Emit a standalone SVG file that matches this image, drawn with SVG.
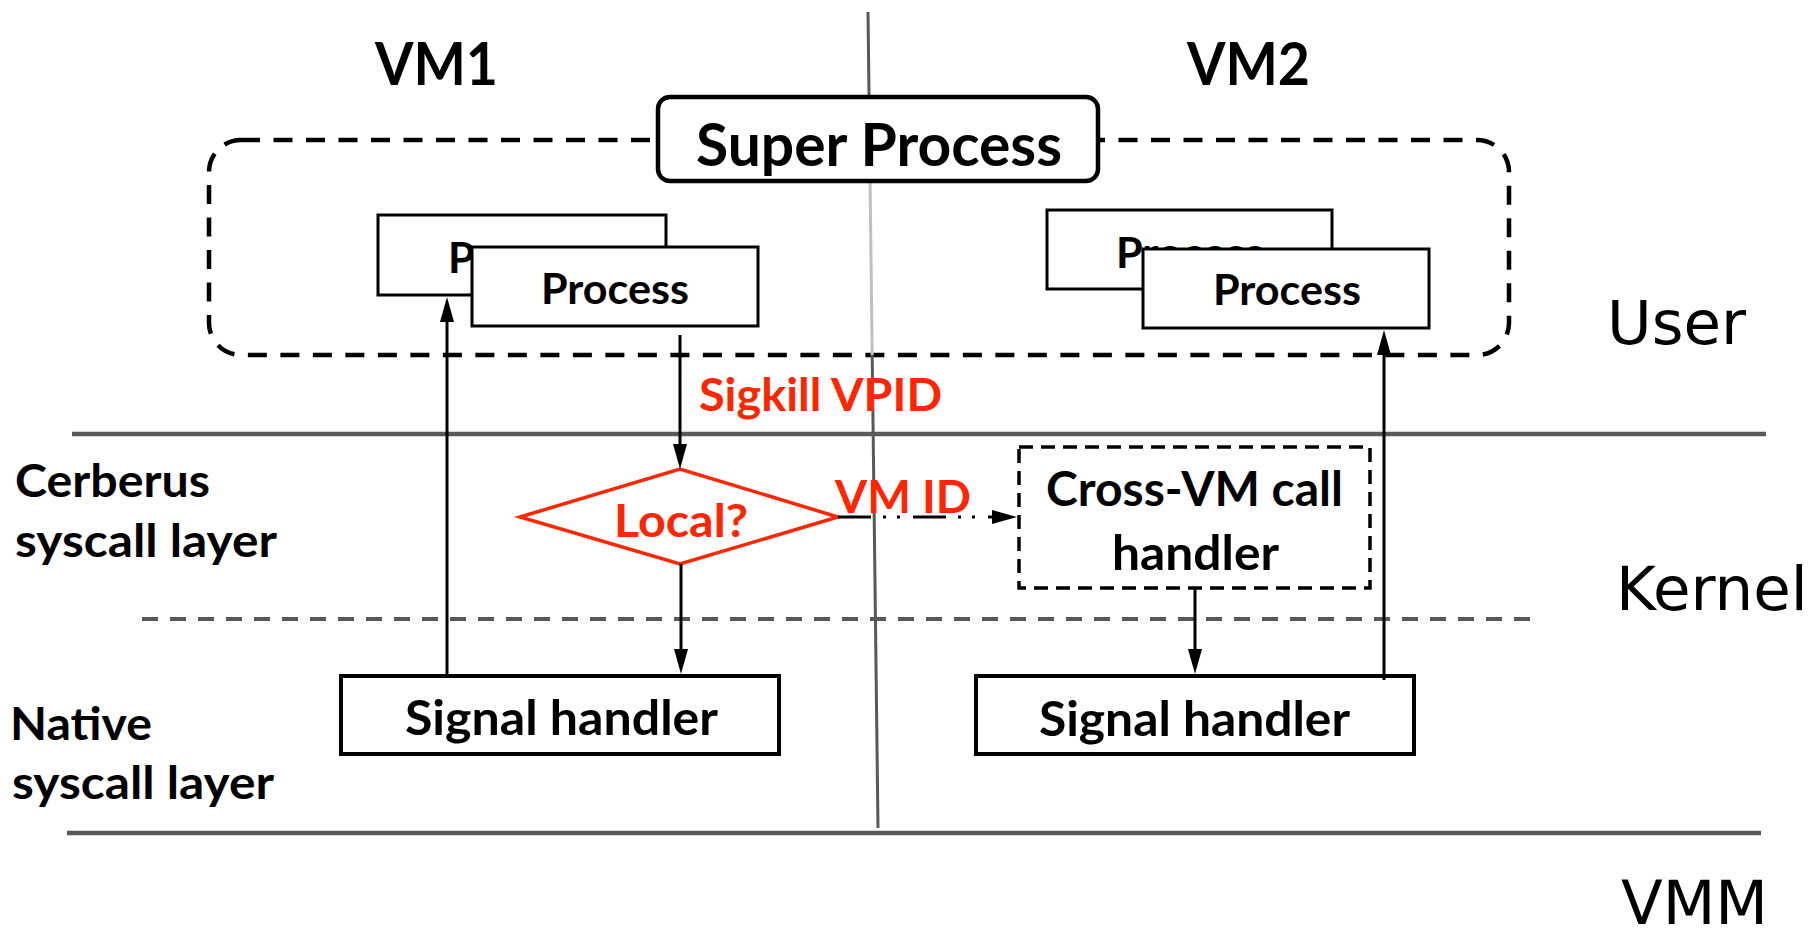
<svg xmlns="http://www.w3.org/2000/svg" width="1819" height="930" viewBox="0 0 1819 930">
  <style>
    .b { font-family: Lato, "Open Sans", "Liberation Sans", sans-serif; font-weight: 700; fill: #000; }
    .red { fill: #ff2600; }
    .layer { font-family: "DejaVu Sans", Verdana, sans-serif; font-size: 61px; fill: #000; }
    .box { fill: #fff; stroke: #000; }
    .conn { stroke: #000; stroke-width: 3; fill: none; }
    .sep { stroke: #595959; stroke-width: 4.5; fill: none; }
    .div { stroke-width: 3; fill: none; }
  </style>
  <defs>
    <marker id="ah" markerUnits="userSpaceOnUse" viewBox="0 0 25 14" markerWidth="25" markerHeight="14" refX="15" refY="7" orient="auto">
      <path d="M0,0 L25,7 L0,14 z" fill="#000"/>
    </marker>
  </defs>

  <rect width="1819" height="930" fill="#fff"/>

  <!-- layer boundaries -->
  <g id="layer-lines">
    <line class="sep" x1="72" y1="434" x2="1766" y2="434"/>
    <line class="sep" x1="67" y1="833" x2="1761" y2="833"/>
    <line x1="142" y1="619" x2="1531" y2="619" stroke="#595959" stroke-width="4" stroke-dasharray="16 12"/>
  </g>

  <!-- super process group boundary -->
  <g id="super-process-scope">
    <rect x="209" y="140" width="1300" height="215" rx="32" ry="32" fill="none" stroke="#000" stroke-width="4.5" stroke-dasharray="19 13.5"/>
  </g>

  <!-- VM separator -->
  <g id="vm-divider">
    <line class="div" stroke="#595959" x1="868" y1="12" x2="869.04" y2="97"/>
    <line class="div" stroke="#c0c0c0" x1="870.07" y1="181" x2="872.2" y2="355"/>
    <line class="div" stroke="#595959" x1="872.2" y1="355" x2="878" y2="828"/>
  </g>

  <g id="vm1-label"><text class="b" x="375" y="85" font-size="60" textLength="123" lengthAdjust="spacingAndGlyphs">VM1</text></g>
  <g id="vm2-label"><text class="b" x="1187" y="85" font-size="60" textLength="123" lengthAdjust="spacingAndGlyphs">VM2</text></g>

  <g id="super-process">
    <rect class="box" x="658" y="97" width="440" height="84" rx="12" ry="12" stroke-width="4.5"/>
    <text class="b" x="696" y="166" font-size="60" textLength="366" lengthAdjust="spacingAndGlyphs">Super Process</text>
  </g>

  <g id="vm1-process-back">
    <rect class="box" x="378" y="215" width="288" height="80" stroke-width="3"/>
    <text class="b" x="448" y="273" font-size="42" textLength="148" lengthAdjust="spacingAndGlyphs">Process</text>
  </g>
  <g id="vm1-process-front">
    <rect class="box" x="472" y="247" width="286" height="79" stroke-width="3"/>
    <text class="b" x="541" y="304" font-size="42" textLength="148" lengthAdjust="spacingAndGlyphs">Process</text>
  </g>

  <g id="vm2-process-back">
    <rect class="box" x="1047" y="210" width="285" height="79" stroke-width="3"/>
    <text class="b" x="1116" y="268" font-size="42" textLength="148" lengthAdjust="spacingAndGlyphs">Process</text>
  </g>
  <g id="vm2-process-front">
    <rect class="box" x="1143" y="249" width="286" height="79" stroke-width="3"/>
    <text class="b" x="1213" y="305" font-size="42" textLength="148" lengthAdjust="spacingAndGlyphs">Process</text>
  </g>

  <g id="local-check">
    <polygon points="520,517 680,469 838,517 680,564" fill="#fff" stroke="#ff2600" stroke-width="3.5"/>
    <text class="b red" x="614" y="537" font-size="46" textLength="134" lengthAdjust="spacingAndGlyphs">Local?</text>
  </g>

  <g id="cross-vm-handler">
    <rect x="1019" y="447" width="351" height="141" fill="#fff" stroke="#000" stroke-width="3.5" stroke-dasharray="14 8"/>
    <text class="b" x="1046" y="506" font-size="47" textLength="297" lengthAdjust="spacingAndGlyphs">Cross-VM call</text>
    <text class="b" x="1112" y="570" font-size="47" textLength="167" lengthAdjust="spacingAndGlyphs">handler</text>
  </g>

  <g id="vm1-signal-handler">
    <rect class="box" x="341" y="676" width="438" height="78" stroke-width="4"/>
    <text class="b" x="405" y="735" font-size="48" textLength="313" lengthAdjust="spacingAndGlyphs">Signal handler</text>
  </g>
  <g id="vm2-signal-handler">
    <rect class="box" x="976" y="676" width="438" height="78" stroke-width="4"/>
    <text class="b" x="1039" y="736" font-size="48" textLength="311" lengthAdjust="spacingAndGlyphs">Signal handler</text>
  </g>

  <g id="cerberus-layer-label">
    <text class="b" x="15" y="497" font-size="45" textLength="195" lengthAdjust="spacingAndGlyphs">Cerberus</text>
    <text class="b" x="15" y="557" font-size="45" textLength="262" lengthAdjust="spacingAndGlyphs">syscall layer</text>
  </g>
  <g id="native-layer-label">
    <text class="b" x="10" y="740" font-size="45" textLength="142" lengthAdjust="spacingAndGlyphs">Native</text>
    <text class="b" x="12" y="799" font-size="45" textLength="262" lengthAdjust="spacingAndGlyphs">syscall layer</text>
  </g>

  <g id="user-label"><text class="layer" x="1607" y="344">User</text></g>
  <g id="kernel-label"><text class="layer" x="1616" y="610">Kernel</text></g>
  <g id="vmm-label"><text class="layer" x="1621" y="924">VMM</text></g>

  <!-- connectors -->
  <g id="connectors">
    <line class="conn" x1="680" y1="335" x2="680" y2="459" marker-end="url(#ah)"/>
    <line class="conn" x1="681" y1="564" x2="681" y2="664" marker-end="url(#ah)"/>
    <line class="conn" x1="447" y1="676" x2="447" y2="307" marker-end="url(#ah)"/>
    <line class="conn" x1="1195" y1="589" x2="1195" y2="664" marker-end="url(#ah)"/>
    <line class="conn" x1="1384" y1="680" x2="1384" y2="340" marker-end="url(#ah)"/>
    <line class="conn" x1="838" y1="517" x2="1007" y2="517" stroke-dasharray="33 12 3 11 3 13" marker-end="url(#ah)"/>
    <text class="b red" x="699" y="411" font-size="45" textLength="243" lengthAdjust="spacingAndGlyphs">Sigkill VPID</text>
    <text class="b red" x="835" y="513" font-size="45" textLength="136" lengthAdjust="spacingAndGlyphs">VM ID</text>
  </g>
</svg>
